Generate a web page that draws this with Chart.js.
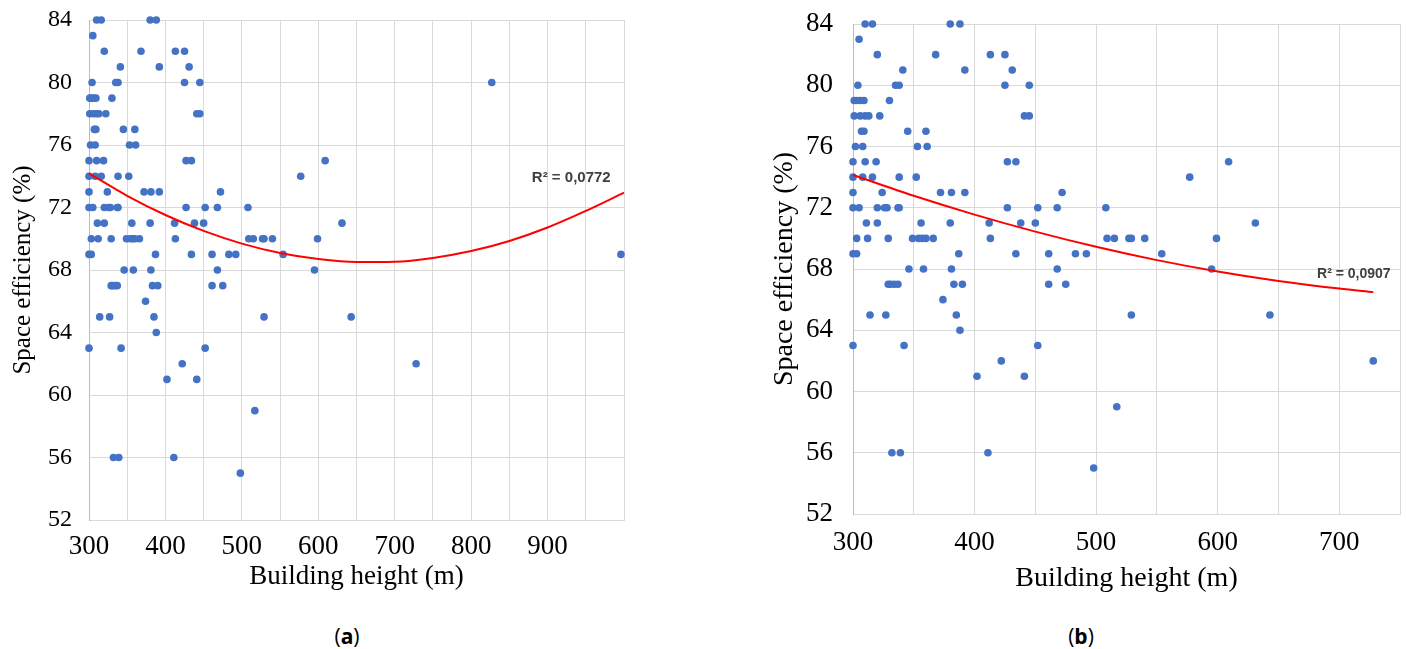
<!DOCTYPE html>
<html lang="en">
<head>
<meta charset="UTF-8">
<title>Space efficiency vs building height</title>
<script src="https://cdn.jsdelivr.net/npm/chart.js"></script>
<style>
  body { margin: 0; background: #fff; width: 1406px; height: 649px; position: relative; overflow: hidden; }
  canvas { position: absolute; top: 0; }
  #chartA { left: 0; }
  #chartB { left: 740px; }
  .caption { position: absolute; top: 622px; font-family: "Open Sans", sans-serif; font-size: 21px; color: #000; transform: translateX(-50%); }
</style>
</head>
<body>
<canvas id="chartA" width="640" height="600"></canvas>
<canvas id="chartB" width="666" height="600"></canvas>
<div class="caption" style="left:347px">(<b>a</b>)</div>
<div class="caption" style="left:1081px">(<b>b</b>)</div>

<script>
// building height (m) and space efficiency (%), row by row from 84 down to 55
const heights = [
  310, 316, 380, 388,
  305,
  320, 368, 413, 425,
  341, 392, 431,
  304, 335, 338, 425, 445,
  301, 303, 306, 309, 330,
  301, 306, 310, 313, 322, 441, 445,
  307, 309, 345, 360,
  302, 308, 353, 361,
  300, 310, 319, 427, 434, 609,
  300, 308, 316, 338, 352, 577,
  300, 324, 372, 381, 392, 472,
  300, 305, 320, 326, 328, 337, 338, 427, 452, 468, 508,
  311, 320, 356, 380, 412, 438, 450, 631,
  303, 312, 329, 349, 354, 357, 360, 366, 413, 509, 515, 527, 529, 540, 599,
  300, 303, 387, 434, 461, 483, 492, 554,
  346, 358, 381, 468, 595,
  329, 331, 334, 337, 383, 390, 461, 475,
  374,
  314, 327, 385, 529, 643,
  388,
  300, 342, 452,
  422, 728,
  402, 441,
  517,
  332, 339, 411,
  498
];
const efficiency = [
  84, 84, 84, 84,
  83,
  82, 82, 82, 82,
  81, 81, 81,
  80, 80, 80, 80, 80,
  79, 79, 79, 79, 79,
  78, 78, 78, 78, 78, 78, 78,
  77, 77, 77, 77,
  76, 76, 76, 76,
  75, 75, 75, 75, 75, 75,
  74, 74, 74, 74, 74, 74,
  73, 73, 73, 73, 73, 73,
  72, 72, 72, 72, 72, 72, 72, 72, 72, 72, 72,
  71, 71, 71, 71, 71, 71, 71, 71,
  70, 70, 70, 70, 70, 70, 70, 70, 70, 70, 70, 70, 70, 70, 70,
  69, 69, 69, 69, 69, 69, 69, 69,
  68, 68, 68, 68, 68,
  67, 67, 67, 67, 67, 67, 67, 67,
  66,
  65, 65, 65, 65, 65,
  64,
  63, 63, 63,
  62, 62,
  61, 61,
  59,
  56, 56, 56,
  55
];

// the two tall buildings only shown in (a)
const extraHeights = [827, 996];
const extraEfficiency = [80, 69];

// trend lines
const trendAHeights = [300, 350, 400, 450, 500, 550, 600, 650, 700, 750, 800, 850, 900, 950, 1000];
const trendAValues  = [74.19, 72.75, 71.52, 70.50, 69.69, 69.09, 68.70, 68.51, 68.53, 68.77, 69.21, 69.86, 70.72, 71.78, 72.95];
const trendBHeights = [300, 350, 400, 450, 500, 550, 600, 650, 700, 728];
const trendBValues  = [74.14, 72.78, 71.55, 70.44, 69.45, 68.58, 67.84, 67.22, 66.72, 66.49];

const r2A = 'R² = 0,0772';
const r2B = 'R² = 0,0907';

const serif = '"Liberation Serif", "Times New Roman", serif';
const gridColor = '#D9D9D9';

const r2Label = {
  id: 'r2Label',
  afterDatasetsDraw(chart, args, opts) {
    const { ctx, scales: { x, y } } = chart;
    ctx.save();
    ctx.font = opts.font;
    ctx.fillStyle = '#404040';
    ctx.textAlign = 'center';
    ctx.textBaseline = 'middle';
    ctx.fillText(opts.text, x.getPixelForValue(opts.at[0]), y.getPixelForValue(opts.at[1]));
    ctx.restore();
  }
};

function toPoints(xs, ys) {
  return xs.map((v, i) => ({ x: v, y: ys[i] }));
}

function makeChart(id, s) {
  return new Chart(document.getElementById(id), {
    type: 'scatter',
    data: {
      datasets: [
        {
          data: s.points,
          backgroundColor: '#4472C4',
          borderWidth: 0,
          pointRadius: 3.8,
          clip: false,
          order: 2
        },
        {
          type: 'line',
          data: s.trend,
          borderColor: '#FF0000',
          borderWidth: 2,
          pointRadius: 0,
          cubicInterpolationMode: 'monotone',
          fill: false,
          clip: false,
          order: 1
        }
      ]
    },
    options: {
      responsive: false,
      animation: false,
      layout: { padding: { top: s.padTop, right: s.padRight, left: 0, bottom: 0 } },
      plugins: {
        legend: { display: false },
        tooltip: { enabled: false },
        r2Label: { text: s.r2, at: s.r2At, font: 'bold ' + s.r2Size + 'px "Liberation Sans", Arial, sans-serif' }
      },
      scales: {
        x: {
          type: 'linear',
          min: 300,
          max: s.xMax,
          afterFit: (axis) => {
            axis.height = s.xAxisH;
            axis.paddingLeft = 0;
            axis.paddingRight = 0;
          },
          ticks: {
            stepSize: 50,
            autoSkip: false,
            maxRotation: 0,
            padding: s.xTickPad,
            color: '#000',
            font: { family: serif, size: s.xTickSize },
            callback: (v) => (v % 100 === 0 && v !== s.xMax) ? v : ''
          },
          grid: { color: gridColor, drawTicks: false },
          border: { color: gridColor },
          title: {
            display: true,
            text: 'Building height (m)',
            color: '#000',
            font: { family: serif, size: s.xTitleSize },
            padding: { top: 0, bottom: s.xTitlePad }
          }
        },
        y: {
          min: 52,
          max: 84,
          afterFit: (axis) => {
            axis.width = s.yAxisW;
            axis.paddingTop = 0;
            axis.paddingBottom = 0;
          },
          ticks: {
            stepSize: 4,
            padding: s.yTickPad,
            color: '#000',
            font: { family: serif, size: s.yTickSize }
          },
          grid: { color: gridColor, drawTicks: false },
          border: { color: '#9DC3E6' },
          title: {
            display: true,
            text: 'Space efficiency (%)',
            color: '#000',
            font: { family: serif, size: s.yTitleSize },
            padding: { top: s.yTitlePad, bottom: 0 }
          }
        }
      }
    },
    plugins: [r2Label]
  });
}

makeChart('chartA', {
  points: toPoints(heights.concat(extraHeights), efficiency.concat(extraEfficiency)),
  trend: toPoints(trendAHeights, trendAValues),
  xMax: 1000,
  padTop: 20, padRight: 16,
  yAxisW: 89, xAxisH: 80,
  xTickPad: 11, yTickPad: 17,
  xTickSize: 27, yTickSize: 24,
  xTitleSize: 27, yTitleSize: 25,
  xTitlePad: 7, yTitlePad: 8,
  r2: r2A, r2At: [931, 73.9], r2Size: 15
});

makeChart('chartB', {
  points: toPoints(heights, efficiency),
  trend: toPoints(trendBHeights, trendBValues),
  xMax: 750,
  padTop: 24, padRight: 6,
  yAxisW: 113, xAxisH: 86,
  xTickPad: 13, yTickPad: 20,
  xTickSize: 27, yTickSize: 27,
  xTitleSize: 28, yTitleSize: 28,
  xTitlePad: 5, yTitlePad: 28,
  r2: r2B, r2At: [712, 67.67], r2Size: 14
});
</script>
</body>
</html>
